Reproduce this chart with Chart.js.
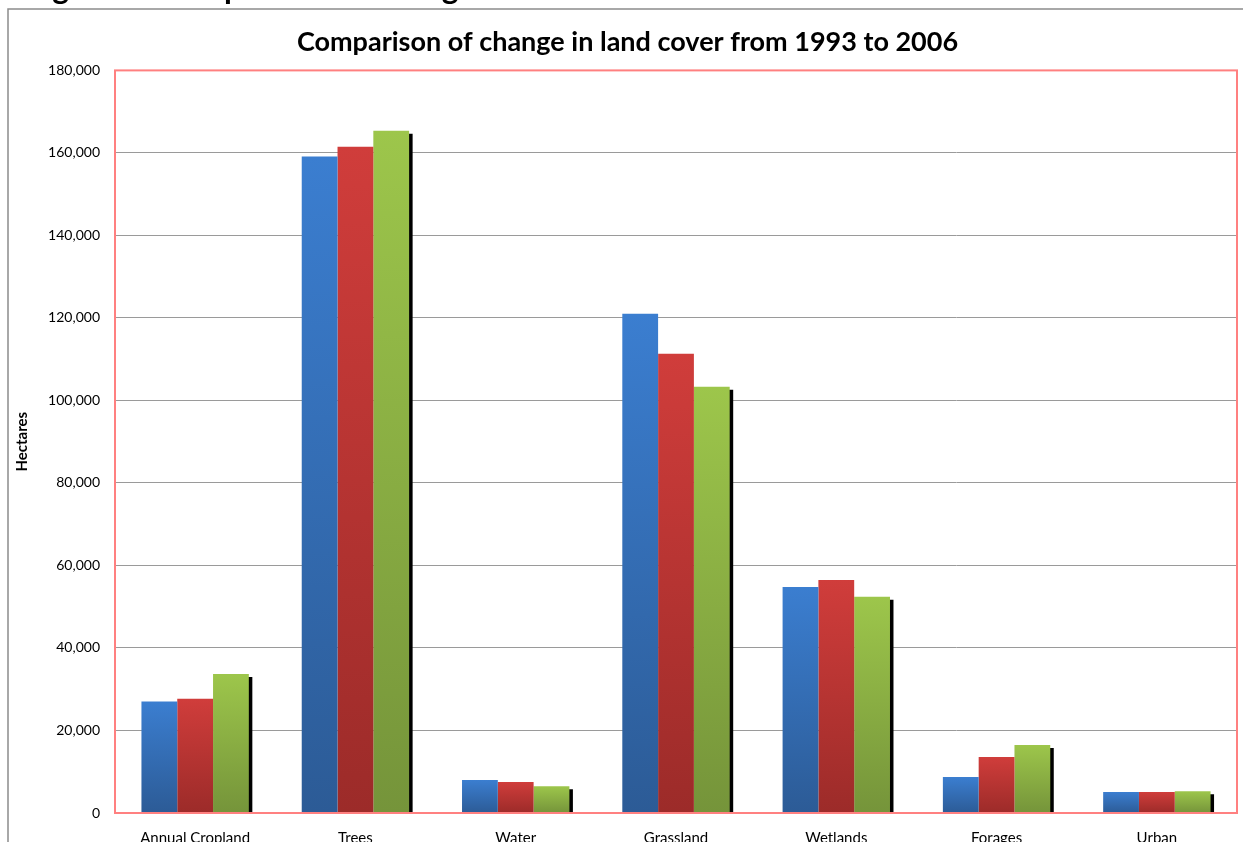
<!DOCTYPE html>
<html>
<head>
<meta charset="utf-8">
<script src="https://cdn.jsdelivr.net/npm/chart.js@4/dist/chart.umd.min.js"></script>
<style>
  html, body { margin: 0; padding: 0; background: #ffffff; overflow: hidden; }
  #wrap { position: relative; width: 1243px; height: 842px; }
  canvas { display: block; }
</style>
</head>
<body>
<div id="wrap"><canvas id="c" width="1243" height="842"></canvas></div>
<script>
// Land cover classes and area (hectares) for each survey year
const categories = ['Annual Cropland', 'Trees', 'Water', 'Grassland', 'Wetlands', 'Forages', 'Urban'];
const seriesNames = ['1993', '2000', '2006'];
const area1993 = [27000, 159100, 8000, 121000, 54800, 8700, 5100];
const area2000 = [27700, 161500, 7500, 111300, 56500, 13600, 5100];
const area2006 = [33700, 165400, 6500, 103300, 52400, 16500, 5300];
const yTicks = [0, 20000, 40000, 60000, 80000, 100000, 120000, 140000, 160000, 180000];

const chartTitle = 'Comparison of change in land cover from 1993 to 2006';
const figureCaption = 'Figure 4: Comparison of change in land cover from 1993 to 2006';
const yAxisTitle = 'Hectares';

const FONT = 'Lato, "Open Sans", "DejaVu Sans", sans-serif';

// light (top) and dark (bottom) shades for each series
const shades = [
  ['#3b7ed0', '#2c5b96'],
  ['#d03d3b', '#9c2b29'],
  ['#9dc64b', '#75943a']
];

function barGradient(idx) {
  return function (ctx) {
    const chart = ctx.chart;
    const y = chart.scales && chart.scales.y;
    if (!y || !chart.chartArea || ctx.raw === undefined) return shades[idx][0];
    const top = y.getPixelForValue(ctx.raw);
    const base = y.getPixelForValue(0);
    if (!isFinite(top) || !isFinite(base) || base - top < 1) return shades[idx][0];
    const g = chart.ctx.createLinearGradient(0, top, 0, base);
    g.addColorStop(0, shades[idx][0]);
    g.addColorStop(1, shades[idx][1]);
    return g;
  };
}

// page frame, caption strip and plot-area border
const decorations = {
  id: 'decorations',
  beforeDraw(chart) {
    const c = chart.ctx;
    c.save();
    c.fillStyle = '#000000';
    c.font = 'bold 32px ' + FONT;
    c.textBaseline = 'alphabetic';
    c.textAlign = 'left';
    c.fillText(figureCaption, 26, -1);
    c.strokeStyle = '#8c8c8c';
    c.lineWidth = 1.5;
    c.strokeRect(8, 9, 1400, 1000);
    c.restore();
  },
  afterDatasetsDraw(chart) {
    const a = chart.chartArea;
    const c = chart.ctx;
    c.save();
    c.strokeStyle = '#ff8080';
    c.lineWidth = 2;
    c.strokeRect(a.left, a.top, a.right - a.left, a.bottom - a.top);
    c.restore();
  }
};

// drop shadow behind the last bar of each group
const barShadow = {
  id: 'barShadow',
  beforeDatasetDraw(chart, args) {
    if (args.index !== 2) return;
    const c = chart.ctx;
    c.save();
    c.shadowColor = '#000000';
    c.shadowOffsetX = 3.5;
    c.shadowOffsetY = 3;
    c.shadowBlur = 0;
  },
  afterDatasetDraw(chart, args) {
    if (args.index !== 2) return;
    chart.ctx.restore();
  }
};

const data = {
  labels: categories,
  datasets: [area1993, area2000, area2006].map((vals, i) => ({
    label: seriesNames[i],
    data: vals,
    backgroundColor: barGradient(i),
    borderWidth: 0,
    categoryPercentage: 0.67,
    barPercentage: 1.0
  }))
};

new Chart(document.getElementById('c'), {
  type: 'bar',
  data,
  plugins: [decorations, barShadow],
  options: {
    responsive: false,
    animation: false,
    layout: { padding: { left: 18, right: 6, top: 0, bottom: 0 } },
    plugins: {
      legend: { display: false },
      tooltip: { enabled: false },
      title: {
        display: true,
        text: chartTitle,
        color: '#000000',
        font: { family: FONT, size: 27, weight: 'bold', lineHeight: 1.2 },
        padding: { top: 26, bottom: 12 }
      }
    },
    scales: {
      x: {
        grid: { display: false, drawTicks: false },
        border: { display: false },
        ticks: {
          color: '#000000',
          font: { family: FONT, size: 15 },
          padding: 16,
          maxRotation: 0,
          autoSkip: false
        },
        afterFit(scale) { scale.height = 29; }
      },
      y: {
        min: 0,
        max: 180000,
        afterBuildTicks(scale) { scale.ticks = yTicks.map(v => ({ value: v })); },
        grid: { color: '#9a9a9a', lineWidth: 1, drawTicks: false },
        border: { display: false },
        ticks: {
          color: '#000000',
          font: { family: FONT, size: 14 },
          padding: 15,
          callback: v => Number(v).toLocaleString('en-US')
        },
        title: {
          display: true,
          text: yAxisTitle,
          color: '#000000',
          font: { family: FONT, size: 15, weight: 'bold' },
          padding: { top: -5, bottom: 0 }
        },
        afterFit(scale) { scale.width = 97; }
      }
    }
  }
});
</script>
</body>
</html>
